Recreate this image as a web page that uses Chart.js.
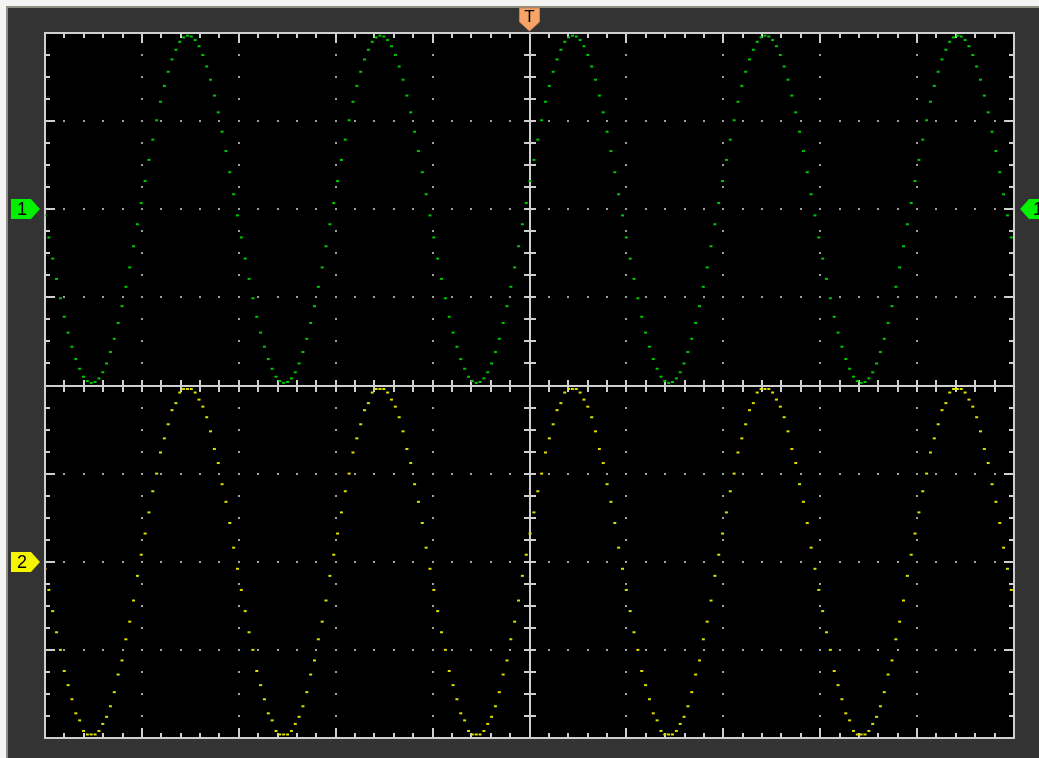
<!DOCTYPE html>
<html>
<head>
<meta charset="utf-8">
<title>Scope capture</title>
<script src="https://cdn.jsdelivr.net/npm/chart.js@4/dist/chart.umd.min.js"></script>
<style>
  html, body { margin: 0; padding: 0; background: #ffffff; }
  canvas { display: block; }
</style>
</head>
<body>
<canvas id="scope" width="1039" height="758"></canvas>
<script>
// CH1 samples, in vertical divisions (one sample every ~3.85 px)
const ch1Samples = [
  -0.07,-0.32,-0.56,-0.79,-1.01,-1.22,-1.40,-1.56,-1.70,-1.81,-1.90,-1.95,-1.97,-1.96,-1.92,-1.85,-1.75,-1.62,-1.47,-1.29,-1.10,-0.88,-0.66,-0.42,-0.17,0.07,0.32,0.56,0.79,1.01,1.22,1.40,1.56,1.70,1.81,1.90,1.95,1.97,1.96,1.92,1.85,1.75,1.62,1.47,1.29,1.10,0.88,0.66,0.42,0.17,
  -0.07,-0.32,-0.56,-0.79,-1.01,-1.22,-1.40,-1.56,-1.70,-1.81,-1.90,-1.95,-1.97,-1.96,-1.92,-1.85,-1.75,-1.62,-1.47,-1.29,-1.10,-0.88,-0.66,-0.42,-0.17,0.07,0.32,0.56,0.79,1.01,1.22,1.40,1.56,1.70,1.81,1.90,1.95,1.97,1.96,1.92,1.85,1.75,1.62,1.47,1.29,1.10,0.88,0.66,0.42,0.17,
  -0.07,-0.32,-0.56,-0.79,-1.01,-1.22,-1.40,-1.56,-1.70,-1.81,-1.90,-1.95,-1.97,-1.96,-1.92,-1.85,-1.75,-1.62,-1.47,-1.29,-1.10,-0.88,-0.66,-0.42,-0.17,0.07,0.32,0.56,0.79,1.01,1.22,1.40,1.56,1.70,1.81,1.90,1.95,1.97,1.96,1.92,1.85,1.75,1.62,1.47,1.29,1.10,0.88,0.66,0.42,0.17,
  -0.07,-0.32,-0.56,-0.79,-1.01,-1.22,-1.40,-1.56,-1.70,-1.81,-1.90,-1.95,-1.97,-1.96,-1.92,-1.85,-1.75,-1.62,-1.47,-1.29,-1.10,-0.88,-0.66,-0.42,-0.17,0.07,0.32,0.56,0.79,1.01,1.22,1.40,1.56,1.70,1.81,1.90,1.95,1.97,1.96,1.92,1.85,1.75,1.62,1.47,1.29,1.10,0.88,0.66,0.42,0.17,
  -0.07,-0.32,-0.56,-0.79,-1.01,-1.22,-1.40,-1.56,-1.70,-1.81,-1.90,-1.95,-1.97,-1.96,-1.92,-1.85,-1.75,-1.62,-1.47,-1.29,-1.10,-0.88,-0.66,-0.42,-0.17,0.07,0.32,0.56,0.79,1.01,1.22,1.40,1.56,1.70,1.81,1.90,1.95,1.97,1.96,1.92,1.85,1.75,1.62,1.47,1.29,1.10,0.88,0.66,0.42,0.17,
  -0.07,-0.32
];

// CH2 samples, in vertical divisions
const ch2Samples = [
  -0.08,-0.32,-0.56,-0.80,-1.00,-1.24,-1.40,-1.56,-1.72,-1.80,-1.92,-1.96,-1.96,-1.96,-1.92,-1.84,-1.76,-1.64,-1.48,-1.28,-1.12,-0.88,-0.68,-0.44,-0.16,0.08,0.32,0.56,0.80,1.00,1.24,1.40,1.56,1.72,1.80,1.92,1.96,1.96,1.96,1.92,1.84,1.76,1.64,1.48,1.28,1.12,0.88,0.68,0.44,0.16,
  -0.08,-0.32,-0.56,-0.80,-1.00,-1.24,-1.40,-1.56,-1.72,-1.80,-1.92,-1.96,-1.96,-1.96,-1.92,-1.84,-1.76,-1.64,-1.48,-1.28,-1.12,-0.88,-0.68,-0.44,-0.16,0.08,0.32,0.56,0.80,1.00,1.24,1.40,1.56,1.72,1.80,1.92,1.96,1.96,1.96,1.92,1.84,1.76,1.64,1.48,1.28,1.12,0.88,0.68,0.44,0.16,
  -0.08,-0.32,-0.56,-0.80,-1.00,-1.24,-1.40,-1.56,-1.72,-1.80,-1.92,-1.96,-1.96,-1.96,-1.92,-1.84,-1.76,-1.64,-1.48,-1.28,-1.12,-0.88,-0.68,-0.44,-0.16,0.08,0.32,0.56,0.80,1.00,1.24,1.40,1.56,1.72,1.80,1.92,1.96,1.96,1.96,1.92,1.84,1.76,1.64,1.48,1.28,1.12,0.88,0.68,0.44,0.16,
  -0.08,-0.32,-0.56,-0.80,-1.00,-1.24,-1.40,-1.56,-1.72,-1.80,-1.92,-1.96,-1.96,-1.96,-1.92,-1.84,-1.76,-1.64,-1.48,-1.28,-1.12,-0.88,-0.68,-0.44,-0.16,0.08,0.32,0.56,0.80,1.00,1.24,1.40,1.56,1.72,1.80,1.92,1.96,1.96,1.96,1.92,1.84,1.76,1.64,1.48,1.28,1.12,0.88,0.68,0.44,0.16,
  -0.08,-0.32,-0.56,-0.80,-1.00,-1.24,-1.40,-1.56,-1.72,-1.80,-1.92,-1.96,-1.96,-1.96,-1.92,-1.84,-1.76,-1.64,-1.48,-1.28,-1.12,-0.88,-0.68,-0.44,-0.16,0.08,0.32,0.56,0.80,1.00,1.24,1.40,1.56,1.72,1.80,1.92,1.96,1.96,1.96,1.92,1.84,1.76,1.64,1.48,1.28,1.12,0.88,0.68,0.44,0.16,
  -0.08,-0.32
];

const channelLabels = ['1', '2'];
const triggerLabel = 'T';

const DIV_X = 10, DIV_Y = 8, SUB_X = 5, SUB_Y = 4;

// screen frame, graticule and ticks
const graticule = {
  id: 'graticule',
  beforeDraw(chart) {
    const { ctx, chartArea: a, width, height } = chart;
    const dx = a.width / DIV_X, dy = a.height / DIV_Y;
    ctx.save();
    ctx.fillStyle = '#f4f4f4';
    ctx.fillRect(0, 0, width, height);
    ctx.fillStyle = '#8e8e82';
    ctx.fillRect(6, 6, width - 6, height - 6);
    ctx.fillStyle = '#333333';
    ctx.fillRect(8, 8, width - 8, height - 8);
    ctx.fillStyle = '#000000';
    ctx.fillRect(a.left, a.top, a.width, a.height);

    // dotted grid
    ctx.fillStyle = '#a0a0a0';
    for (let k = 1; k < DIV_X; k++) {
      if (k === DIV_X / 2) continue;
      const x = Math.round(a.left + k * dx);
      for (let j = 1; j < DIV_Y * SUB_Y; j++) {
        const y = Math.round(a.top + j * dy / SUB_Y);
        ctx.fillRect(x - 1, y - 1, 2, 2);
      }
    }
    for (let k = 1; k < DIV_Y; k++) {
      if (k === DIV_Y / 2) continue;
      const y = Math.round(a.top + k * dy);
      for (let j = 1; j < DIV_X * SUB_X; j++) {
        const x = Math.round(a.left + j * dx / SUB_X);
        ctx.fillRect(x - 1, y - 1, 2, 2);
      }
    }

    ctx.strokeStyle = '#cfcfcf';
    ctx.lineWidth = 2;
    const cx = Math.round(a.left + dx * DIV_X / 2);
    const cy = Math.round(a.top + dy * DIV_Y / 2);
    ctx.beginPath();
    ctx.moveTo(cx, a.top); ctx.lineTo(cx, a.bottom);
    ctx.moveTo(a.left, cy); ctx.lineTo(a.right, cy);

    // ticks on border and centre lines
    for (let j = 1; j < DIV_X * SUB_X; j++) {
      const x = Math.round(a.left + j * dx / SUB_X);
      const len = j % SUB_X === 0 ? 10 : 5;
      ctx.moveTo(x, a.top); ctx.lineTo(x, a.top + len);
      ctx.moveTo(x, a.bottom); ctx.lineTo(x, a.bottom - len);
      ctx.moveTo(x, cy - 6); ctx.lineTo(x, cy + 6);
    }
    for (let j = 1; j < DIV_Y * SUB_Y; j++) {
      const y = Math.round(a.top + j * dy / SUB_Y);
      const len = j % SUB_Y === 0 ? 10 : 5;
      ctx.moveTo(a.left, y); ctx.lineTo(a.left + len, y);
      ctx.moveTo(a.right, y); ctx.lineTo(a.right - len, y);
      ctx.moveTo(cx - 6, y); ctx.lineTo(cx + 6, y);
    }
    ctx.stroke();
    ctx.strokeRect(a.left, a.top, a.width, a.height);
    ctx.restore();
  },
  afterDraw(chart) {
    const { ctx, chartArea: a } = chart;
    const y1 = Math.round(chart.scales.y1.getPixelForValue(0));
    const y2 = Math.round(chart.scales.y2.getPixelForValue(0));
    ctx.save();
    ctx.font = '18px "Liberation Sans", Arial, sans-serif';
    ctx.textBaseline = 'middle';
    ctx.textAlign = 'center';

    const leftTag = (y, fill, txt) => {
      ctx.fillStyle = fill;
      ctx.beginPath();
      ctx.moveTo(11, y - 10); ctx.lineTo(31, y - 10); ctx.lineTo(40, y);
      ctx.lineTo(31, y + 10); ctx.lineTo(11, y + 10); ctx.closePath();
      ctx.fill();
      ctx.fillStyle = '#000';
      ctx.fillText(txt, 22, y + 1);
    };
    leftTag(y1, '#00f000', channelLabels[0]);
    leftTag(y2, '#f5f500', channelLabels[1]);

    // right-hand CH1 tag, cut off by the window edge
    ctx.fillStyle = '#00f000';
    ctx.beginPath();
    ctx.moveTo(1020, y1); ctx.lineTo(1029, y1 - 10); ctx.lineTo(1045, y1 - 10);
    ctx.lineTo(1045, y1 + 10); ctx.lineTo(1029, y1 + 10); ctx.closePath();
    ctx.fill();
    ctx.fillStyle = '#000';
    ctx.textAlign = 'left';
    ctx.fillText(channelLabels[0], 1033, y1 + 1);

    // trigger position tag
    const tx = (a.left + a.right) / 2;
    ctx.fillStyle = '#f6a468';
    ctx.strokeStyle = '#c8804c';
    ctx.lineWidth = 1;
    ctx.beginPath();
    ctx.moveTo(tx - 10, 8); ctx.lineTo(tx + 10, 8); ctx.lineTo(tx + 10, 22);
    ctx.lineTo(tx, 31); ctx.lineTo(tx - 10, 22); ctx.closePath();
    ctx.fill();
    ctx.stroke();
    ctx.fillStyle = '#000';
    ctx.textAlign = 'center';
    ctx.font = '17px "Liberation Sans", Arial, sans-serif';
    ctx.fillText(triggerLabel, tx, 17);
    ctx.restore();
  }
};

const toPoints = (vals) => vals.map((v, i) => ({ x: i, y: v }));

new Chart(document.getElementById('scope').getContext('2d'), {
  type: 'scatter',
  data: {
    datasets: [
      {
        label: 'CH1',
        data: toPoints(ch1Samples),
        yAxisID: 'y1',
        pointStyle: 'line',
        pointRadius: 1.5,
        borderWidth: 2,
        borderColor: 'rgb(0, 200, 0)',
        backgroundColor: 'rgb(0, 200, 0)',
      },
      {
        label: 'CH2',
        data: toPoints(ch2Samples),
        yAxisID: 'y2',
        pointStyle: 'line',
        pointRadius: 1.5,
        borderWidth: 2,
        borderColor: 'rgb(222, 222, 0)',
        backgroundColor: 'rgb(222, 222, 0)',
      },
    ],
  },
  options: {
    responsive: false,
    animation: false,
    events: [],
    layout: { padding: { left: 45, right: 25, top: 33, bottom: 20 } },
    scales: {
      x: { type: 'linear', min: 0, max: 251.7, display: false },
      y1: { type: 'linear', min: -6, max: 2, display: false },
      y2: { type: 'linear', min: -2, max: 6, display: false },
    },
    plugins: {
      legend: { display: false },
      tooltip: { enabled: false },
    },
  },
  plugins: [graticule],
});
</script>
</body>
</html>
